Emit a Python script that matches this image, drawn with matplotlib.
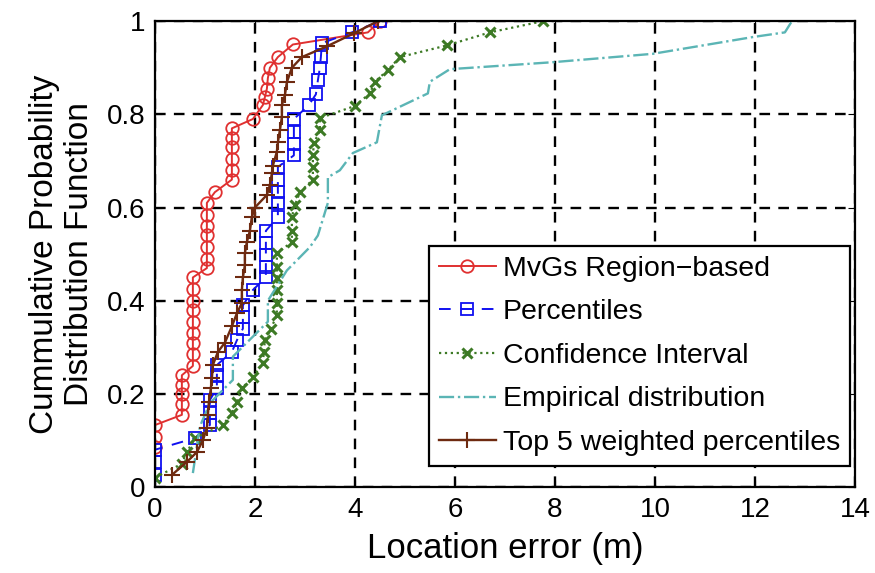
import matplotlib.pyplot as plt

# MvGs Region-based
mvgs_x = [0, 0, 0, 0.54, 0.54, 0.54, 0.54, 0.54, 0.76, 0.76, 0.76, 0.76, 0.76, 0.76, 0.76, 0.76, 0.76,
          1.04, 1.04, 1.04, 1.04, 1.04, 1.04, 1.04, 1.2, 1.54, 1.54, 1.54, 1.54, 1.54, 1.54,
          1.96, 2.16, 2.2, 2.24, 2.26, 2.3, 2.46, 2.76, 4.26, 4.5]
mvgs_y = [0.085, 0.107, 0.133, 0.155, 0.178, 0.2, 0.22, 0.24, 0.26, 0.285, 0.31, 0.33, 0.355, 0.38, 0.40, 0.425, 0.45,
          0.47, 0.49, 0.515, 0.54, 0.56, 0.585, 0.61, 0.633, 0.66, 0.68, 0.705, 0.73, 0.75, 0.77,
          0.79, 0.82, 0.837, 0.855, 0.878, 0.9, 0.923, 0.95, 0.976, 1.0]

# Percentiles
perc_x = [0, 0, 0, 0.8, 1.1, 1.1, 1.1, 1.24, 1.24, 1.24, 1.54, 1.64, 1.76, 1.76, 1.76, 1.96,
          2.22, 2.22, 2.22, 2.22, 2.22, 2.46, 2.46, 2.46, 2.46, 2.46, 2.78, 2.78, 2.78, 2.78,
          3.08, 3.22, 3.26, 3.3, 3.32, 3.34, 3.94, 4.5]
perc_y = [0.026, 0.054, 0.08, 0.105, 0.133, 0.159, 0.187, 0.212, 0.24, 0.262, 0.29, 0.315, 0.34, 0.365, 0.39, 0.423,
          0.45, 0.472, 0.498, 0.523, 0.55, 0.58, 0.61, 0.633, 0.66, 0.687, 0.712, 0.736, 0.762, 0.79,
          0.82, 0.843, 0.873, 0.9, 0.923, 0.953, 0.976, 1.0]

# Confidence Interval
ci_x = [0, 0.54, 0.64, 0.8, 1.36, 1.54, 1.64, 1.74, 1.96, 2.16, 2.18, 2.2, 2.32, 2.44, 2.44, 2.44, 2.44, 2.44,
        2.44, 2.74, 2.74, 2.74, 2.8, 2.9, 3.16, 3.16, 3.16, 3.18, 3.3, 3.3, 4.0, 4.3, 4.4, 4.66, 4.9,
        5.84, 6.7, 7.76]
ci_y = [0.02, 0.05, 0.075, 0.105, 0.133, 0.159, 0.182, 0.212, 0.236, 0.266, 0.29, 0.315, 0.34, 0.369, 0.395, 0.423, 0.448, 0.472,
        0.502, 0.526, 0.55, 0.58, 0.605, 0.633, 0.66, 0.687, 0.712, 0.738, 0.766, 0.792, 0.818, 0.845, 0.87, 0.895, 0.923,
        0.948, 0.976, 1.0]

# Empirical distribution
emp_x = [0.76, 0.9, 1.1, 1.56, 1.56, 2.26, 2.26, 2.64, 3.1, 3.26, 3.46, 3.46, 3.7, 3.96, 4.44, 4.54,
         5.46, 5.5, 5.9, 7.96, 9.96, 11.96, 12.6, 12.74]
emp_y = [0.03, 0.13, 0.18, 0.23, 0.28, 0.355, 0.40, 0.465, 0.515, 0.54, 0.61, 0.665, 0.68, 0.717, 0.74, 0.798,
         0.845, 0.87, 0.897, 0.912, 0.93, 0.966, 0.976, 1.0]

# Top 5 weighted percentiles
top5_x = [0.34, 0.64, 0.84, 0.96, 1.04, 1.06, 1.08, 1.12, 1.14, 1.16, 1.26, 1.4, 1.54, 1.64, 1.74, 1.74, 1.76,
          1.8, 1.8, 1.84, 1.9, 1.94, 2.0, 2.24, 2.3, 2.34, 2.36, 2.44, 2.46, 2.5, 2.54, 2.54, 2.6, 2.64,
          2.74, 2.94, 3.44, 3.98, 4.46]
top5_y = [0.026, 0.054, 0.075, 0.1, 0.127, 0.155, 0.182, 0.212, 0.234, 0.262, 0.29, 0.31, 0.345, 0.373, 0.395, 0.423, 0.45,
          0.476, 0.502, 0.526, 0.55, 0.58, 0.6, 0.627, 0.648, 0.674, 0.69, 0.72, 0.74, 0.766, 0.794, 0.82, 0.841, 0.869,
          0.9, 0.923, 0.946, 0.974, 1.0]

plt.rcParams['font.family'] = ['Liberation Sans', 'DejaVu Sans']

fig = plt.figure(figsize=(8.75, 5.73), dpi=100)
ax = fig.add_axes([0.177, 0.150, 0.800, 0.813])

ax.plot(mvgs_x, mvgs_y, '-o', color='#e03030', mfc='none', ms=9, mew=1.3, lw=1.4, label='MvGs Region\u2212based')
ax.plot(perc_x, perc_y, '--s', color='#1010f0', mfc='none', ms=8, mew=1.3, lw=1.4, dashes=(6, 5), label='Percentiles')
ax.plot(ci_x, ci_y, ':x', color='#3d7a25', ms=7, mew=2.2, lw=1.6, label='Confidence Interval')
ax.plot(emp_x, emp_y, '-.', color='#5bb5b5', lw=1.7, label='Empirical distribution')
ax.plot(top5_x, top5_y, '-+', color='#6e2a10', ms=12, mew=1.5, lw=1.7, label='Top 5 weighted percentiles')

ax.set_xlim(0, 14)
ax.set_ylim(0, 1)
ax.set_xticks(range(0, 15, 2))
ax.set_yticks([0, 0.2, 0.4, 0.6, 0.8, 1])
ax.set_yticklabels(['0', '0.2', '0.4', '0.6', '0.8', '1'])
ax.grid(True, color='black', linestyle=(0, (4.5, 3.5)), linewidth=1.7)
ax.tick_params(direction='in', top=True, right=True, labelsize=20, length=5, pad=7)
for s in ax.spines.values():
    s.set_linewidth(1.6)

ax.set_xlabel('Location error (m)', fontsize=25, labelpad=7)
ax.set_ylabel('Cummulative Probability\nDistribution Function', fontsize=24, labelpad=8)

leg = ax.legend(loc='lower right', bbox_to_anchor=(0.993, 0.045), borderaxespad=0,
                fontsize=20.5, fancybox=False, framealpha=1, edgecolor='black',
                handlelength=2.0, handletextpad=0.25, labelspacing=0.62, borderpad=0.35)
leg.get_frame().set_linewidth(1.6)

fig.savefig('out.png', dpi=100)
